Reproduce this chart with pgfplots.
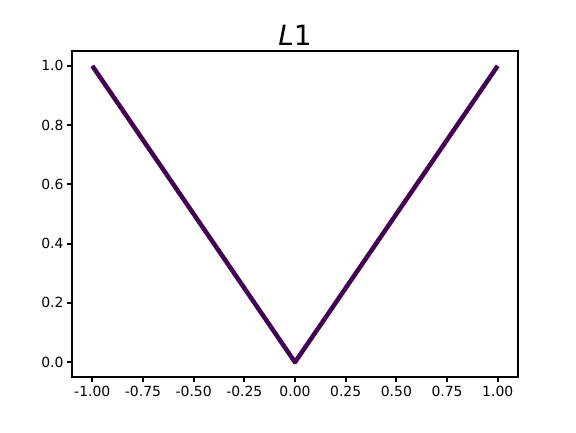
\documentclass[border=0pt]{standalone}
\usepackage{pgfplots}
\pgfplotsset{compat=1.18}
\usepackage{fontspec}
\setmainfont{DejaVu Sans}
\definecolor{vir0}{HTML}{440154}
\begin{document}
\begin{tikzpicture}[x=1bp,y=1bp]
\useasboundingbox (0,0) rectangle (576,432);
\begin{axis}[
  at={(72bp,55bp)}, anchor=south west,
  scale only axis, width=446bp, height=326bp,
  xmin=-1.1, xmax=1.1, ymin=-0.05, ymax=1.05,
  xtick={-1,-0.75,-0.5,-0.25,0,0.25,0.5,0.75,1},
  xticklabels={-1.00,-0.75,-0.50,-0.25,0.00,0.25,0.50,0.75,1.00},
  ytick={0,0.2,0.4,0.6,0.8,1.0},
  yticklabels={0.0,0.2,0.4,0.6,0.8,1.0},
  tick align=outside, tickwidth=5bp,
  major tick style={line width=2bp, black},
  axis line style={line width=1.3bp},
  xtick pos=bottom, ytick pos=left,
  tick label style={font=\fontsize{14}{16}\selectfont},
  xticklabel style={yshift=-1bp},
  yticklabel style={xshift=0bp},
  title={\fontsize{28}{32}\selectfont\textit{L}1},
  title style={yshift=-4bp},
]
\addplot[vir0, line width=4.5bp, line join=round, line cap=butt] coordinates {(-1,1) (0,0) (1,1)};
\end{axis}
\end{tikzpicture}
\end{document}
